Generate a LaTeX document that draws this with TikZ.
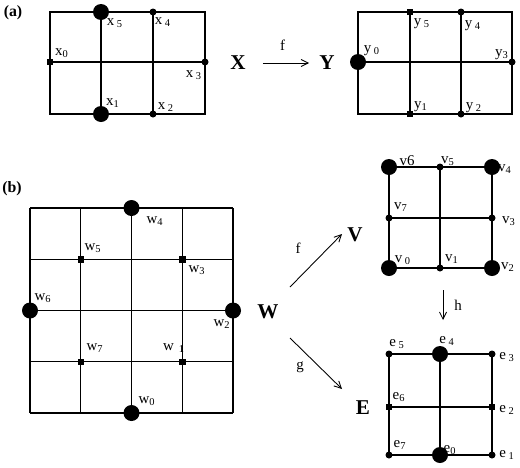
\documentclass[tikz,border=0pt]{standalone}
\usepackage{fontspec}
\setmainfont{Liberation Serif}
\usetikzlibrary{arrows.meta}

\begin{document}
\begin{tikzpicture}[x=0.02cm, y=-0.02cm,
    grid/.style={line width=0.8pt},
    bigdot/.style={circle, fill, inner sep=0pt, minimum size=0.32cm},
    smalldot/.style={circle, fill, inner sep=0pt, minimum size=0.14cm},
    sqdot/.style={rectangle, fill, inner sep=0pt, minimum size=0.13cm},
    lbl/.style={font=\fontsize{8.5}{9}\selectfont, inner sep=0pt},
    space/.style={font=\fontsize{12}{13}\selectfont\bfseries, inner sep=0pt},
    tag/.style={font=\fontsize{9}{10}\selectfont\bfseries, inner sep=0pt},
    arr/.style={-{Straight Barb[length=4pt, width=4pt]}, line width=0.5pt},
]
    \useasboundingbox (0,0) rectangle (520,467);

    \node[tag] (taga) at (13,13) {(a)};
    \node[tag] (tagb) at (12,189) {(b)};

    % X grid
    \draw[grid] (50,12) rectangle (205,114);
    \draw[grid] (101,12) -- (101,114) (153,12) -- (153,114) (50,62) -- (205,62);
    \node[sqdot] (x0) at (50,62) {};
    \node[bigdot] (x5) at (101,12) {};
    \node[bigdot] (x1) at (101,114) {};
    \node[smalldot] (x4) at (153,12) {};
    \node[smalldot] (x2) at (153,114) {};
    \node[smalldot] (x3) at (205,62) {};
    \node[lbl] at (62,53) {x\textsubscript{0}};
    \node[lbl] at (115,23) {x\,\textsubscript{5}};
    \node[lbl] at (163,22) {x\,\textsubscript{4}};
    \node[lbl] at (113,103) {x\textsubscript{1}};
    \node[lbl] at (166,107) {x\,\textsubscript{2}};
    \node[lbl] at (194,75) {x\,\textsubscript{3}};

    % X -> Y
    \node[space] (X) at (238,63) {X};
    \node[space] (Y) at (327,63) {Y};
    \draw[arr, shorten <=0.34cm, shorten >=0.2cm] (X.east) -- node[lbl, above=7pt] {f} (Y.west);

    % Y grid
    \draw[grid] (358,12) rectangle (512,114);
    \draw[grid] (410,12) -- (410,114) (461,12) -- (461,114) (358,62) -- (512,62);
    \node[bigdot] (y0) at (358,62) {};
    \node[sqdot] (y5) at (410,12) {};
    \node[sqdot] (y1) at (410,114) {};
    \node[smalldot] (y4) at (461,12) {};
    \node[smalldot] (y2) at (461,114) {};
    \node[smalldot] (y3) at (512,62) {};
    \node[lbl] at (372,51) {y\,\textsubscript{0}};
    \node[lbl] at (422,24) {y\,\textsubscript{5}};
    \node[lbl] at (473,26) {y\,\textsubscript{4}};
    \node[lbl] at (421,107) {y\textsubscript{1}};
    \node[lbl] at (474,108) {y\,\textsubscript{2}};
    \node[lbl] at (502,55) {y\textsubscript{3}};

    % W grid
    \foreach \i in {0,...,4} {
        \draw[grid] (30+50.75*\i,208) -- (30+50.75*\i,413);
        \draw[grid] (30,208+51.25*\i) -- (233,208+51.25*\i);
    }
    \node[bigdot] (w4) at (131.5,208) {};
    \node[bigdot] (w0) at (131.5,413) {};
    \node[bigdot] (w6) at (30,310.5) {};
    \node[bigdot] (w2) at (233,310.5) {};
    \node[sqdot] (w5) at (80.75,259.25) {};
    \node[sqdot] (w3) at (182.25,259.25) {};
    \node[sqdot] (w7) at (80.75,361.75) {};
    \node[sqdot] (w1) at (182.25,361.75) {};
    \node[lbl] at (155,221) {w\textsubscript{4}};
    \node[lbl] at (93,248) {w\textsubscript{5}};
    \node[lbl] at (197,270) {w\textsubscript{3}};
    \node[lbl] at (43,298) {w\textsubscript{6}};
    \node[lbl] at (222,324) {w\textsubscript{2}};
    \node[lbl] at (95,348) {w\textsubscript{7}};
    \node[lbl] at (174,348) {w\,\,\textsubscript{1}};
    \node[lbl] at (147,401) {w\textsubscript{0}};

    % W -> V, W -> E, V -> E
    \node[space] (W) at (268,312) {W};
    \node[space] (V) at (355,235) {V};
    \node[space] (E) at (363,408) {E};
    \coordinate (fa) at (290,287);
    \coordinate (fb) at (342,234);
    \coordinate (ga) at (290,338);
    \coordinate (gb) at (342,389);
    \coordinate (ha) at (443,290);
    \coordinate (hb) at (443,320);
    \draw[arr] (fa) -- (fb);
    \draw[arr] (ga) -- (gb);
    \draw[arr] (ha) -- (hb);
    \node[lbl] at (298,248) {f};
    \node[lbl] at (300,367) {g};
    \node[lbl] at (458,305) {h};

    % V grid
    \draw[grid] (389,167) rectangle (492,268);
    \draw[grid] (440,167) -- (440,268) (389,218) -- (492,218);
    \node[bigdot] (v6) at (389,167) {};
    \node[bigdot] (v4) at (492,167) {};
    \node[bigdot] (v0) at (389,268) {};
    \node[bigdot] (v2) at (492,268) {};
    \node[smalldot] (v5) at (440,167) {};
    \node[smalldot] (v1) at (440,268) {};
    \node[smalldot] (v7) at (389,218) {};
    \node[smalldot] (v3) at (492,218) {};
    \node[lbl] at (407,161) {v6};
    \node[lbl] at (448,161) {v\textsubscript{5}};
    \node[lbl] at (505,169) {v\textsubscript{4}};
    \node[lbl] at (401,207) {v\textsubscript{7}};
    \node[lbl] at (509,221) {v\textsubscript{3}};
    \node[lbl] at (403,260) {v\,\textsubscript{0}};
    \node[lbl] at (452,259) {v\textsubscript{1}};
    \node[lbl] at (508,267) {v\textsubscript{2}};

    % E grid
    \draw[grid] (389,354) rectangle (492,455);
    \draw[grid] (440,354) -- (440,455) (389,407) -- (492,407);
    \node[smalldot] (e5) at (389,354) {};
    \node[bigdot] (e4) at (440,354) {};
    \node[smalldot] (e3) at (492,354) {};
    \node[sqdot] (e6) at (389,407) {};
    \node[sqdot] (e2) at (492,407) {};
    \node[smalldot] (e7) at (389,455) {};
    \node[bigdot] (e0) at (440,455) {};
    \node[smalldot] (e1) at (492,455) {};
    \node[lbl] at (397,344) {e\,\textsubscript{5}};
    \node[lbl] at (447,341) {e\,\textsubscript{4}};
    \node[lbl] at (507,357) {e\,\textsubscript{3}};
    \node[lbl] at (399,397) {e\textsubscript{6}};
    \node[lbl] at (507,410) {e\,\textsubscript{2}};
    \node[lbl] at (400,445) {e\textsubscript{7}};
    \node[lbl] at (450,450) {e\textsubscript{0}};
    \node[lbl] at (507,455) {e\,\textsubscript{1}};
\end{tikzpicture}
\end{document}
